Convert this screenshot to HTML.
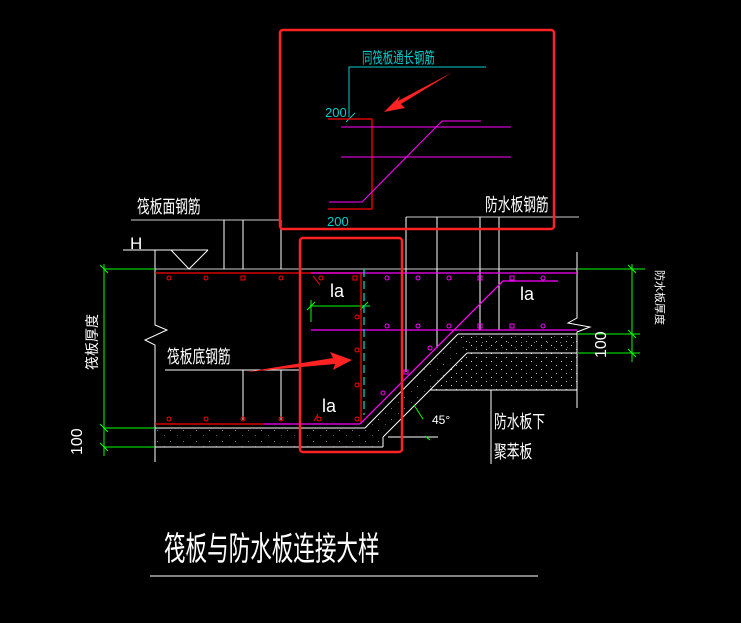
<!DOCTYPE html>
<html><head><meta charset="utf-8"><style>
html,body{margin:0;padding:0;background:#000;}
svg{display:block;}
text{font-family:"Liberation Sans","Noto Sans CJK SC",sans-serif;}
</style></head><body>
<svg width="741" height="623" viewBox="0 0 741 623" xmlns="http://www.w3.org/2000/svg">
<rect width="741" height="623" fill="#000"/>
<defs>
<pattern id="dots" width="13" height="11" patternUnits="userSpaceOnUse">
<rect x="1" y="1" width="1" height="1" fill="#777"/><rect x="8" y="6" width="1" height="1" fill="#555"/>
</pattern>
<pattern id="dots2" width="10" height="8" patternUnits="userSpaceOnUse">
<rect x="1" y="1" width="1" height="1" fill="#ddd"/><rect x="6" y="5" width="1" height="1" fill="#bbb"/>
</pattern>
</defs>
<polygon points="155,428 365,428 458,334 577,334 577,353 467,353 383,437 383,447 155,447" fill="url(#dots)"/>
<polygon points="458,336 577,336 577,390 430,390 467,353" fill="url(#dots2)"/>
<g stroke="#fff" stroke-width="1" fill="none">
<line x1="155" y1="269" x2="577" y2="269" stroke="#ccc"/>
<polyline points="155,250 155,325 167,330 145,340 155,345 155,462"/>
<line x1="155" y1="428" x2="365" y2="428"/>
<line x1="155" y1="447" x2="383" y2="447"/>
<line x1="383" y1="447" x2="383" y2="437"/>
<line x1="365" y1="428" x2="458" y2="334"/>
<line x1="383" y1="437" x2="467" y2="353"/>
<line x1="458" y1="334" x2="577" y2="334"/>
<line x1="467" y1="353" x2="577" y2="353"/>
<line x1="430" y1="390" x2="577" y2="390"/>
<polyline points="577,252 577,318 568,323 590,327 577,332 577,408"/>
<line x1="491" y1="390" x2="491" y2="464"/>
<line x1="131" y1="220" x2="281" y2="220" stroke="#ccc"/>
<line x1="224" y1="220" x2="224" y2="269"/><line x1="243" y1="220" x2="243" y2="269"/><line x1="281" y1="220" x2="281" y2="269"/>
<line x1="165" y1="370" x2="300" y2="370"/>
<line x1="243" y1="370" x2="243" y2="420"/><line x1="281" y1="370" x2="281" y2="420"/>
<line x1="406" y1="217" x2="579" y2="217" stroke="#ccc"/>
<line x1="406" y1="217" x2="406" y2="372"/><line x1="437" y1="217" x2="437" y2="348"/>
<line x1="480" y1="217" x2="480" y2="330"/><line x1="499" y1="217" x2="499" y2="330"/>
<line x1="123" y1="250" x2="208" y2="250"/>
<polyline points="171,250 189,269 208,250"/>
<line x1="388" y1="437" x2="438" y2="437"/>
</g>
<g stroke="#0f0" stroke-width="1">
<line x1="104" y1="264" x2="104" y2="456"/>
<line x1="104" y1="269" x2="155" y2="269"/><line x1="104" y1="428" x2="155" y2="428"/><line x1="104" y1="447" x2="155" y2="447"/>
<line x1="100" y1="265" x2="108" y2="273"/><line x1="100" y1="424" x2="108" y2="432"/><line x1="100" y1="443" x2="108" y2="451"/>
<line x1="632" y1="264" x2="632" y2="362"/>
<line x1="578" y1="269" x2="645" y2="269" /><line x1="578" y1="334" x2="640" y2="334"/><line x1="578" y1="353" x2="640" y2="353"/>
<line x1="628" y1="265" x2="636" y2="273"/><line x1="628" y1="330" x2="636" y2="338"/><line x1="628" y1="349" x2="636" y2="357"/>
<line x1="310" y1="306" x2="370" y2="306"/><line x1="311" y1="300" x2="311" y2="322"/>
<line x1="307" y1="310" x2="315" y2="302"/><line x1="360" y1="310" x2="368" y2="302"/>
<line x1="414" y1="405" x2="423" y2="419"/><line x1="425" y1="436" x2="430" y2="440"/>
</g>
<g fill="none" stroke-width="1.3">
<line x1="155" y1="273" x2="361" y2="273" stroke="#f00"/>
<line x1="311" y1="273" x2="577" y2="273" stroke="#f0f"/>
<line x1="311" y1="330" x2="577" y2="330" stroke="#f0f"/>
<line x1="155" y1="424" x2="264" y2="424" stroke="#f00"/>
<line x1="264" y1="424" x2="360" y2="424" stroke="#f0f"/>
<line x1="361" y1="273" x2="361" y2="424" stroke="#f00"/>
<polyline points="360,424 503,281 558,281" stroke="#f0f"/>
<line x1="364" y1="269" x2="364" y2="415" stroke="#0cc" stroke-dasharray="8,4"/>
</g>
<g fill="none" stroke="#f00" stroke-width="1">
<circle cx="169" cy="278" r="2"/><rect x="241" y="276" width="4" height="4"/><circle cx="206" cy="278" r="2"/><circle cx="281" cy="278" r="2"/>
<circle cx="321" cy="278" r="2"/><rect x="353" y="276" width="4" height="4"/>
<circle cx="357" cy="317" r="2"/><circle cx="357" cy="350" r="2"/><circle cx="357" cy="385" r="2"/>
<circle cx="169" cy="419" r="2"/><circle cx="206" cy="419" r="2"/><circle cx="243" cy="419" r="2"/><circle cx="281" cy="419" r="2"/><circle cx="319" cy="419" r="2"/><circle cx="357" cy="419" r="2"/>
<line x1="313" y1="276" x2="320" y2="285"/><line x1="314" y1="421" x2="318" y2="414"/>
</g>
<g fill="none" stroke="#f0f" stroke-width="1">
<circle cx="387" cy="278" r="2"/><circle cx="418" cy="278" r="2"/><circle cx="449" cy="278" r="2"/><rect x="478" y="276" width="4" height="4"/><rect x="510" y="276" width="4" height="4"/><circle cx="543" cy="278" r="2"/>
<circle cx="387" cy="326" r="2"/><circle cx="418" cy="326" r="2"/><circle cx="449" cy="326" r="2"/><rect x="478" y="324" width="4" height="4"/><rect x="510" y="324" width="4" height="4"/><circle cx="543" cy="326" r="2"/>
<circle cx="430" cy="348" r="2"/><rect x="404" y="370" width="4" height="4"/><circle cx="383" cy="393" r="2"/>
</g>
<rect x="280" y="30" width="274" height="199" rx="3" fill="none" stroke="#f22" stroke-width="2.5"/>
<rect x="300" y="238" width="102" height="214" rx="3" fill="none" stroke="#f22" stroke-width="2.5"/>
<polyline points="349,117 349,67 486,67" fill="none" stroke="#0cc"/>
<line x1="346" y1="122" x2="355" y2="113" stroke="#0cc"/>
<polyline points="328,119 372,119 372,209 328,209" fill="none" stroke="#f00" stroke-width="1.3"/>
<line x1="341" y1="127" x2="511" y2="127" stroke="#f0f"/>
<line x1="341" y1="157" x2="511" y2="157" stroke="#f0f"/>
<polyline points="329,202 362,202 442,121 481,121" fill="none" stroke="#f0f"/>
<polygon points="453,72 398,101 400,96 384,112 405,108 401,104" fill="#f22"/>
<polygon points="246,372 335,364 333,370 352,360 330,352 333,358" fill="#f22"/>
<g fill="#fff" font-size="15">
<text x="137" y="213" transform="translate(137,213) scale(0.85,1.2) translate(-137,-213)">筏板面钢筋</text>
<text x="167" y="363" transform="translate(167,363) scale(0.85,1.2) translate(-167,-363)">筏板底钢筋</text>
<text x="485" y="211" transform="translate(485,211) scale(0.85,1.2) translate(-485,-211)">防水板钢筋</text>
<text x="494" y="428" transform="translate(494,428) scale(0.85,1.2) translate(-494,-428)">防水板下</text>
<text x="494" y="458" transform="translate(494,458) scale(0.85,1.2) translate(-494,-458)">聚苯板</text>
<text x="130" y="249" font-size="17">H</text>
<text x="330" y="297" font-size="18" font-weight="300">la</text>
<text x="322" y="412" font-size="18">la</text>
<text x="520" y="300" font-size="18">la</text>
<text x="432" y="424" font-size="12">45°</text>
<text x="97" y="370" font-size="14" transform="rotate(-90 97 370)">筏板厚度</text>
<text x="82" y="455" font-size="16" transform="rotate(-90 82 455)">100</text>
<text x="606" y="358" font-size="16" transform="rotate(-90 606 358)">100</text>
<text x="656" y="270" font-size="11" transform="rotate(90 656 270)">防水板厚度</text>
</g>
<g fill="#0cc" font-size="13">
<text x="362" y="63" transform="translate(362,63) scale(0.8,1.2) translate(-362,-63)">同筏板通长钢筋</text>
<text x="325" y="117">200</text>
<text x="327" y="226">200</text>
</g>
<text x="164" y="560" fill="#fff" font-size="22" transform="translate(164,560) scale(0.98,1.5) translate(-164,-560)">筏板与防水板连接大样</text>
<line x1="150" y1="576" x2="538" y2="576" stroke="#fff"/>
</svg>
</body></html>
